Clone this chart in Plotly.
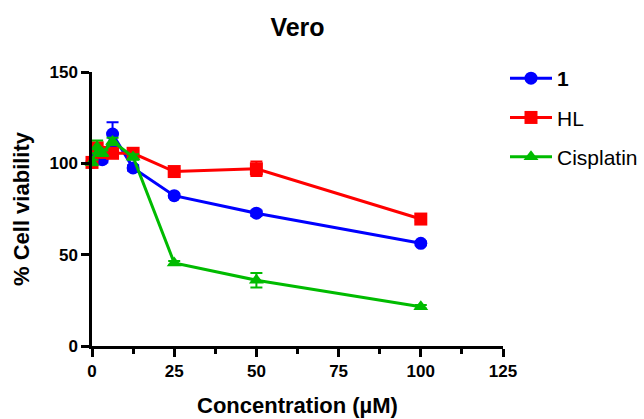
import plotly.graph_objects as go

conc = [0, 1.5625, 3.125, 6.25, 12.5, 25, 50, 100]

cmp1 = [100.5, 104.5, 102.0, 116.0, 97.5, 82.3, 72.7, 56.2]
cmp1_err = [1.5, 2.0, 1.5, 6.5, 1.5, 1.0, 1.5, 1.0]

hl = [100.5, 108.5, 106.0, 105.5, 105.5, 95.5, 97.0, 69.5]
hl_err = [1.5, 2.0, 1.5, 1.5, 1.5, 1.5, 4.0, 1.0]

cis = [100.5, 109.0, 105.5, 112.0, 103.5, 45.5, 36.0, 21.5]
cis_err = [1.5, 3.5, 1.5, 2.0, 1.5, 1.0, 4.0, 1.0]

names = ["<b>1</b>", "HL", "Cisplatin"]
colors = ["#0000FF", "#FF0000", "#00BB00"]
symbols = ["circle", "square", "triangle-up"]
series = [(cmp1, cmp1_err), (hl, hl_err), (cis, cis_err)]

FONT = "Liberation Sans, Arial, sans-serif"

fig = go.Figure()
for i, (vals, errs) in enumerate(series):
    fig.add_trace(go.Scatter(
        x=conc, y=vals, name=names[i], mode="lines+markers",
        legendgroup=f"g{i}",
        line=dict(color=colors[i], width=3),
        marker=dict(symbol=symbols[i], size=13, color=colors[i]),
        error_y=dict(type="data", array=errs, color=colors[i], thickness=2, width=6),
        cliponaxis=False,
    ))

fig.update_layout(
    width=644, height=419,
    paper_bgcolor="white", plot_bgcolor="white",
    margin=dict(l=92, r=141, t=72, b=73, autoexpand=False),
    title=dict(text="Vero", x=297.5/644, xanchor="center", y=1 - 27/419, yanchor="middle",
               font=dict(family=FONT, size=25, color="black", weight="bold")),
    font=dict(family=FONT, color="black"),
    legend=dict(xref="container", yref="container", x=505/644, xanchor="left",
                y=1 - 58/419, yanchor="top",
                font=dict(family=FONT, size=21, color="black"),
                itemwidth=42,
                tracegroupgap=9, bgcolor="rgba(0,0,0,0)"),
    showlegend=True,
)
fig.update_xaxes(
    range=[0, 125], tickvals=[0, 25, 50, 75, 100, 125],
    showgrid=False, zeroline=False, automargin=False,
    showline=True, linecolor="black", linewidth=2.5,
    ticks="outside", ticklen=8, tickwidth=2.5, tickcolor="black",
    minor=dict(tickvals=[12.5, 37.5, 62.5, 87.5, 112.5], ticks="outside", ticklen=5, tickwidth=2.5, tickcolor="black"),
    tickfont=dict(family=FONT, size=17, color="black", weight="bold"),
    title=dict(text="Concentration (µM)", font=dict(family=FONT, size=22, color="black", weight="bold"), standoff=18),
)
fig.update_yaxes(
    range=[0, 150], tickvals=[0, 50, 100, 150],
    showgrid=False, zeroline=False, automargin=False,
    showline=True, linecolor="black", linewidth=2.5,
    ticks="outside", ticklen=8, tickwidth=2.5, tickcolor="black",
    tickfont=dict(family=FONT, size=17, color="black", weight="bold"),
    title=dict(text="% Cell viability", font=dict(family=FONT, size=22, color="black", weight="bold"), standoff=14),
)

fig.write_html("out.html", config={"displayModeBar": False},
               post_script="document.body.style.margin='0';document.body.style.overflow='hidden';")
